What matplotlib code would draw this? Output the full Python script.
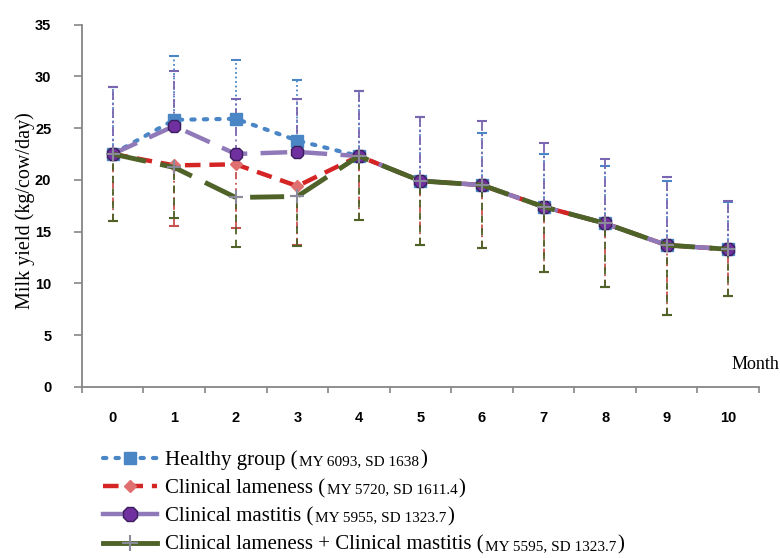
import numpy as np
import matplotlib
matplotlib.use('Agg')
from matplotlib import pyplot as plt
from matplotlib.lines import Line2D

# monthly milk yield (kg/cow/day)
months = np.arange(0, 11)
healthy = [22.5, 25.8, 25.9, 23.8, 22.3, 19.9, 19.5, 17.4, 15.8, 13.7, 13.3]
lameness = [22.5, 21.4, 21.5, 19.4, 22.3, 19.9, 19.5, 17.4, 15.8, 13.7, 13.3]
mastitis = [22.5, 25.2, 22.5, 22.7, 22.3, 19.9, 19.5, 17.4, 15.8, 13.7, 13.3]
combined = [22.5, 21.2, 18.3, 18.4, 22.3, 19.9, 19.5, 17.4, 15.8, 13.7, 13.3]

# one sided error bars (upper for healthy / mastitis, lower for the others)
healthy_sd = [6.5, 6.2, 5.7, 5.8, 6.3, 6.2, 5.0, 5.1, 5.5, 6.2, 4.6]
mastitis_sd = [6.5, 5.3, 5.3, 5.1, 6.3, 6.2, 6.2, 6.2, 6.2, 6.6, 4.65]
lameness_sd = [6.5, 5.9, 6.1, 5.7, 6.2, 6.2, 6.1, 6.3, 6.1, 6.75, 4.5]
combined_sd = [6.5, 4.9, 4.8, 4.8, 6.2, 6.2, 6.1, 6.3, 6.1, 6.75, 4.5]

names = ['Healthy group', 'Clinical lameness', 'Clinical mastitis',
         'Clinical lameness + Clinical mastitis']
stats = ['MY 6093, SD 1638', 'MY 5720, SD 1611.4', 'MY 5955, SD 1323.7',
         'MY 5595, SD 1323.7']

c_blue = '#4a86c5'
c_red = '#d42424'
c_purple = '#9079b8'
c_green = '#4f6228'

fig = plt.figure(figsize=(7.8, 5.58), dpi=100)
ax = fig.add_axes([0.105, 0.3065, 0.868, 0.6495])

def barras(y, sd, color, estilo, arriba):
    z = np.zeros(len(sd))
    yerr = [z, sd] if arriba else [sd, z]
    eb = ax.errorbar(months, y, yerr=yerr, fmt='none', ecolor=color,
                     elinewidth=1.3, capsize=3.5, capthick=1.5, zorder=2)
    eb[2][0].set_linestyle(estilo)

barras(healthy, healthy_sd, c_blue, (0, (1, 1.5)), True)
barras(mastitis, mastitis_sd, '#7a66b0', (0, (5, 2, 1, 2)), True)
barras(lameness, lameness_sd, '#c85050', (0, (4, 2, 1, 2)), False)
barras(combined, combined_sd, c_green, (0, (4, 3)), False)

ax.plot(months, healthy, color=c_blue, lw=3, ls=(0, (0.8, 2.2)),
        dash_capstyle='round', marker='s', ms=8, mfc=c_blue,
        mec=c_blue, zorder=3)
ax.plot(months, lameness, color=c_red, lw=3.2, ls=(0, (3.5, 2)),
        marker='D', ms=6, mfc='#e07070', mec='#e07070', zorder=4)
ax.plot(months, mastitis, color=c_purple, lw=3.2, ls=(0, (6, 3)),
        marker='8', ms=10, mfc='#7030a0', mec='#3a1d5c', mew=1, zorder=5)
ax.plot(months, combined, color=c_green, lw=3.5, ls=(0, (7, 3)),
        marker='+', ms=10, mec='#8a8a9a', mew=1.5, zorder=6)

ax.set_xlim(-0.5, 10.5)
ax.set_ylim(0, 35)
ax.set_yticks(np.arange(0, 36, 5))
ax.set_xticks(months)
ax.set_xticks(np.arange(-0.5, 10.6, 1), minor=True)
ax.tick_params(axis='x', which='major', length=0, pad=17)
ax.tick_params(axis='x', which='minor', length=4.5, color='#868686', width=1.2)
ax.tick_params(axis='y', length=6, color='#868686', width=1.2, pad=16)
for lab in ax.get_xticklabels() + ax.get_yticklabels():
    lab.set_fontfamily('Liberation Sans')
    lab.set_fontweight('bold')
    lab.set_fontsize(10.5)
for s in ['top', 'right']:
    ax.spines[s].set_visible(False)
for s in ['left', 'bottom']:
    ax.spines[s].set_color('#868686')
    ax.spines[s].set_linewidth(1.3)

fig.text(0.032, 0.6217, 'Milk yield (kg/cow/day)', family='Liberation Serif',
         fontsize=14.5, rotation=90, ha='center', va='center')
fig.text(0.999, 0.346, 'Month', family='Liberation Serif', fontsize=13,
         va='center', ha='right')

# legend entries
handles = [
    Line2D([], [], color=c_blue, lw=3, ls=(0, (0.8, 2.2)),
           dash_capstyle='round', marker='s', ms=8, mfc=c_blue, mec=c_blue),
    Line2D([], [], color=c_red, lw=3.2, ls=(0, (3.5, 2)), marker='D',
           ms=6, mfc='#e07070', mec='#e07070'),
    Line2D([], [], color=c_purple, lw=3.2, marker='8', ms=11,
           mfc='#7030a0', mec='#3a1d5c', mew=1),
    Line2D([], [], color=c_green, lw=3.5, marker='+', ms=11,
           mec='#8a8a9a', mew=1.5),
]
leg = fig.legend(handles, names, loc='upper left',
                 bbox_to_anchor=(0.132, 0.193), frameon=False,
                 prop={'family': 'Liberation Serif', 'size': 15},
                 handlelength=2.6, handletextpad=0.4, labelspacing=0.42,
                 borderpad=0, borderaxespad=0)

# legend labels redrawn piece by piece on a shared baseline so the
# statistics can use a smaller size
fig.canvas.draw()
r = fig.canvas.get_renderer()
for t, nombre, st in zip(leg.get_texts(), names, stats):
    bb = t.get_window_extent(r)
    d = r.get_text_width_height_descent('lp', t.get_fontproperties(),
                                        ismath=False)[2]
    t.set_visible(False)
    x = bb.x0
    base = bb.y0 + d
    for trozo, tam in [(nombre + ' (', 15), (st, 11), (')', 15)]:
        tt = fig.text(x, base, trozo, transform=None, family='Liberation Serif',
                      fontsize=tam, va='baseline', ha='left')
        x = tt.get_window_extent(r).x1 + 1

fig.savefig('out.png', dpi=100)
